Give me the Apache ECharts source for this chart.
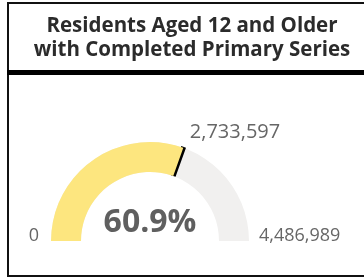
<!DOCTYPE html>
<html>
<head>
<meta charset="utf-8">
<script src="https://cdn.jsdelivr.net/npm/echarts@6/dist/echarts.min.js"></script>
<style>
  html, body { margin: 0; padding: 0; background: #fff; }
  #chart { width: 364px; height: 278px; }
</style>
</head>
<body>
<div id="chart"></div>
<script>
const titleLines = ["Residents Aged 12 and Older", "with Completed Primary Series"];
const gaugeMin = 0;
const gaugeMax = 4486989;
const gaugeValue = 2733597;

const fmt = (v) => v.toLocaleString("en-US");
const font = "'Open Sans', 'DejaVu Sans', sans-serif";

const chart = echarts.init(document.getElementById("chart"));

const option = {
  animation: false,
  title: {
    text: titleLines.join("\n"),
    left: 187,
    textAlign: "center",
    top: 9,
    textStyle: {
      fontFamily: font,
      fontSize: 20.5,
      fontWeight: "bold",
      color: "#2b2b2b",
      lineHeight: 24,
    },
  },
  graphic: [
    // frame
    { type: "rect", shape: { x: 7, y: 2, width: 400, height: 2 }, style: { fill: "#111" } },
    { type: "rect", shape: { x: 7, y: 2, width: 2, height: 275 }, style: { fill: "#111" } },
    { type: "rect", shape: { x: 7, y: 275, width: 400, height: 2 }, style: { fill: "#111" } },
    { type: "rect", shape: { x: 7, y: 70, width: 400, height: 5 }, style: { fill: "#000" } },
    // min / max labels
    {
      type: "text",
      x: 39, y: 236,
      style: { text: fmt(gaugeMin), align: "right", verticalAlign: "middle", fontFamily: font, fontSize: 18, fill: "#666" },
    },
    {
      type: "text",
      x: 259, y: 236,
      style: { text: fmt(gaugeMax), align: "left", verticalAlign: "middle", fontFamily: font, fontSize: 18, fill: "#666" },
    },
  ],
  series: [
    {
      type: "gauge",
      center: [150, 241],
      radius: 99,
      startAngle: 180,
      endAngle: 0,
      min: gaugeMin,
      max: gaugeMax,
      splitNumber: 1,
      axisLine: { lineStyle: { width: 30, color: [[1, "#f1f0ef"]] } },
      progress: { show: true, width: 30, itemStyle: { color: "#fde67f" } },
      axisTick: { show: false },
      splitLine: { show: false },
      axisLabel: { show: false },
      pointer: {
        show: true,
        icon: "path://M0,0 L5,0 L5,31 L0,31 Z M0,100 L5,100 Z",
        length: 100,
        width: 5,
        itemStyle: { color: "#000" },
      },
      anchor: { show: false },
      title: {
        show: true,
        offsetCenter: [85, -109],
        fontFamily: font,
        fontSize: 20,
        color: "#666",
      },
      detail: {
        show: true,
        offsetCenter: [0, -18],
        fontFamily: font,
        fontSize: 32,
        fontWeight: "bold",
        color: "#5f5f5f",
        formatter: (v) => ((v / gaugeMax) * 100).toFixed(1) + "%",
      },
      data: [{ value: gaugeValue, name: fmt(gaugeValue) }],
    },
  ],
};

chart.setOption(option);
</script>
</body>
</html>
